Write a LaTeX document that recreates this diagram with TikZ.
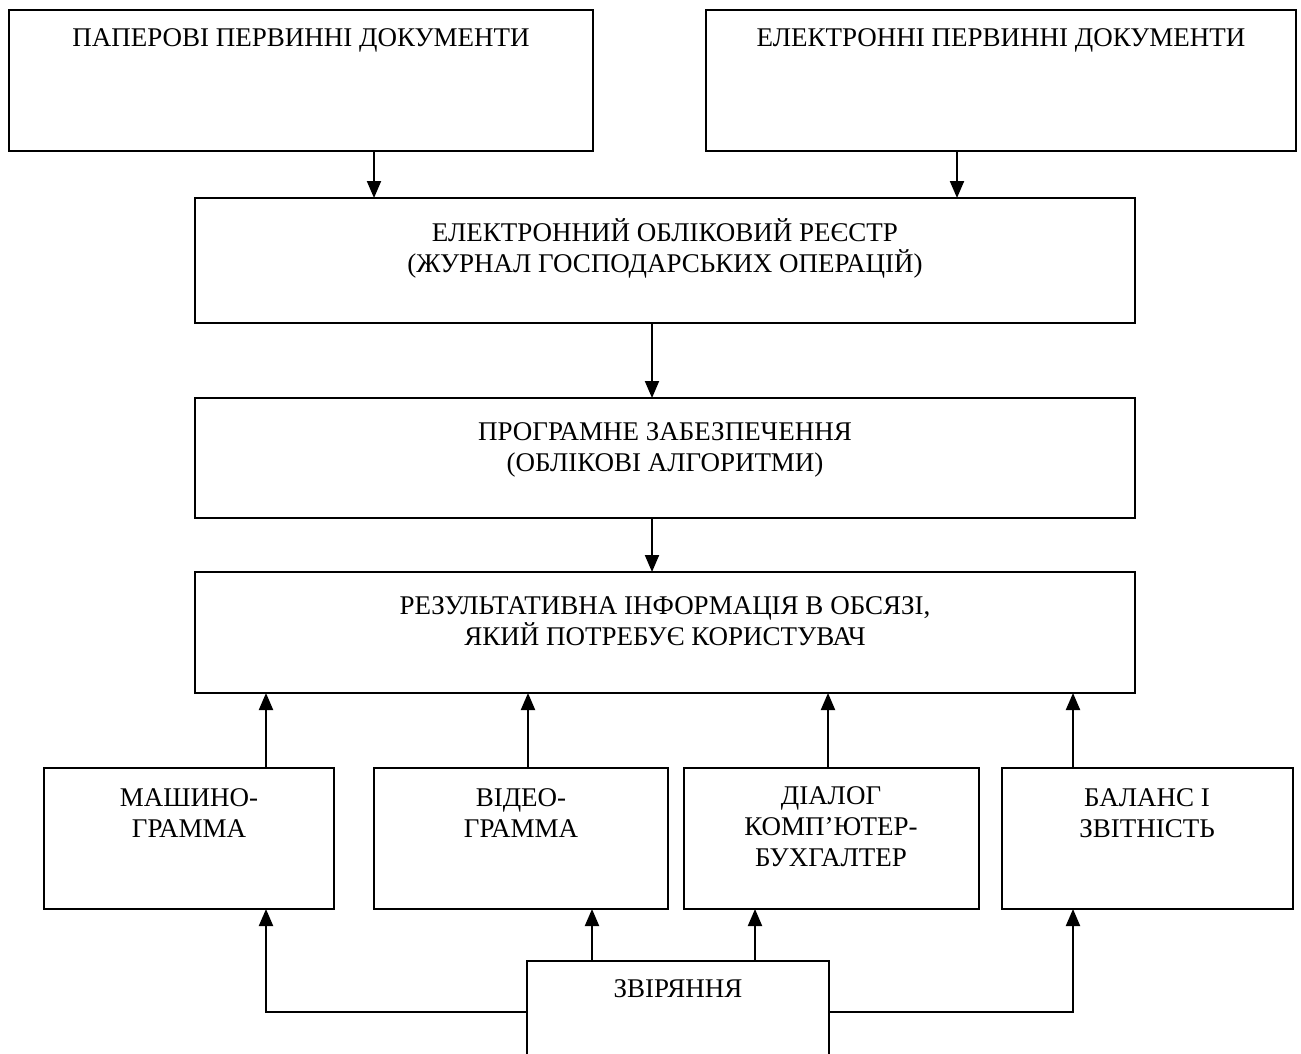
\documentclass[tikz,border=0pt]{standalone}
\usepackage{fontspec}
\setmainfont{Liberation Serif}
\usetikzlibrary{arrows.meta}
\begin{document}
\begin{tikzpicture}[x=1pt,y=-1pt,
  box/.style={draw,line width=2pt},
  txt/.style={anchor=base,align=center,font=\fontsize{27}{31}\selectfont,inner sep=0pt},
  flow/.style={line width=2pt,-{Triangle[length=17pt,width=14pt]}}]
\clip (0,0) rectangle (1301,1054);
\fill[white] (0,0) rectangle (1301,1054);

% boxes
\draw[box] (9,10) rectangle (593,151);
\draw[box] (706,10) rectangle (1296,151);
\draw[box] (195,198) rectangle (1135,323);
\draw[box] (195,398) rectangle (1135,518);
\draw[box] (195,572) rectangle (1135,693);
\draw[box] (44,768) rectangle (334,909);
\draw[box] (374,768) rectangle (668,909);
\draw[box] (684,768) rectangle (979,909);
\draw[box] (1002,768) rectangle (1293,909);
\draw[box] (527,1070) -- (527,961) -- (829,961) -- (829,1070);

% texts (anchored at the baseline of their last line)
\node[txt] (paper) at (301,47) {ПАПЕРОВІ ПЕРВИННІ ДОКУМЕНТИ};
\node[txt] (elec) at (1001,47) {ЕЛЕКТРОННІ ПЕРВИННІ ДОКУМЕНТИ};
\node[txt] (reg) at (665,272) {ЕЛЕКТРОННИЙ ОБЛІКОВИЙ РЕЄСТР\\(ЖУРНАЛ ГОСПОДАРСЬКИХ ОПЕРАЦІЙ)};
\node[txt] (soft) at (665,471) {ПРОГРАМНЕ ЗАБЕЗПЕЧЕННЯ\\(ОБЛІКОВІ АЛГОРИТМИ)};
\node[txt] (res) at (665,645) {РЕЗУЛЬТАТИВНА ІНФОРМАЦІЯ В ОБСЯЗІ,\\ЯКИЙ ПОТРЕБУЄ КОРИСТУВАЧ};
\node[txt] (mash) at (189,837) {МАШИНО-\\ГРАММА};
\node[txt] (video) at (521,837) {ВІДЕО-\\ГРАММА};
\node[txt] (dial) at (831,866) {ДІАЛОГ\\КОМП’ЮТЕР-\\БУХГАЛТЕР};
\node[txt] (bal) at (1147,837) {БАЛАНС І\\ЗВІТНІСТЬ};
\node[txt] (zv) at (678,997) {ЗВІРЯННЯ};

% connectors
\coordinate (a1s) at (374,151); \coordinate (a1e) at (374,198);
\coordinate (a2s) at (957,151); \coordinate (a2e) at (957,198);
\coordinate (a3s) at (652,323); \coordinate (a3e) at (652,398);
\coordinate (a4s) at (652,518); \coordinate (a4e) at (652,572);
\draw[flow] (a1s) -- (a1e);
\draw[flow] (a2s) -- (a2e);
\draw[flow] (a3s) -- (a3e);
\draw[flow] (a4s) -- (a4e);
\foreach \x in {266,528,828,1073} {
  \draw[flow] (\x,768) -- (\x,693);
}
\coordinate (zl) at (527,1012); \coordinate (zr) at (829,1012);
\draw[flow] (zl) -- (266,1012) -- (266,909);
\draw[flow] (zr) -- (1073,1012) -- (1073,909);
\draw[flow] (592,961) -- (592,909);
\draw[flow] (755,961) -- (755,909);
\end{tikzpicture}
\end{document}
